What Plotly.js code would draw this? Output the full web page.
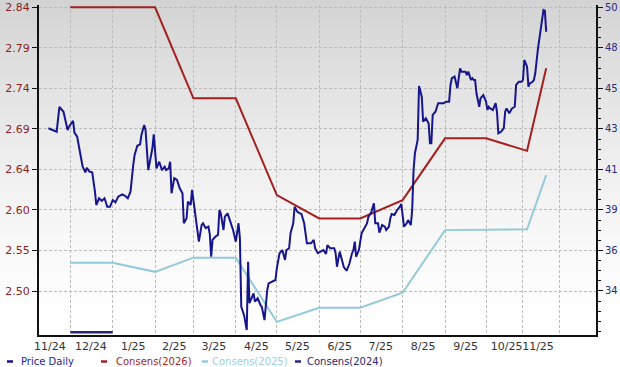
<!DOCTYPE html>
<html><head><meta charset="utf-8">
<script src="https://cdn.plot.ly/plotly-3.0.1.min.js"></script>
<style>html,body{margin:0;padding:0;background:#fff}#chart{width:620px;height:367px}</style>
</head><body><div id="chart"></div>
<script>
// ---------- DATA ----------
const priceDates = [
'2024-11-15','2024-11-18','2024-11-21','2024-11-23','2024-11-26','2024-11-29','2024-11-30',
'2024-12-03','2024-12-04','2024-12-06','2024-12-08','2024-12-10','2024-12-12','2024-12-13','2024-12-15','2024-12-17','2024-12-19','2024-12-20','2024-12-22','2024-12-24','2024-12-26','2024-12-28','2024-12-30',
'2025-01-01','2025-01-03','2025-01-05','2025-01-08','2025-01-10','2025-01-12','2025-01-14','2025-01-16','2025-01-17','2025-01-19','2025-01-21','2025-01-22','2025-01-24','2025-01-25','2025-01-27','2025-01-30','2025-01-31',
'2025-02-02','2025-02-04','2025-02-06','2025-02-08','2025-02-09','2025-02-11','2025-02-12','2025-02-13','2025-02-15','2025-02-17','2025-02-19','2025-02-21','2025-02-22','2025-02-24','2025-02-25','2025-02-27','2025-02-28',
'2025-03-02','2025-03-05','2025-03-07','2025-03-08','2025-03-10','2025-03-12','2025-03-13','2025-03-14','2025-03-15','2025-03-17','2025-03-19','2025-03-20','2025-03-21','2025-03-23','2025-03-24','2025-03-26','2025-03-28','2025-03-30',
'2025-04-01','2025-04-03','2025-04-04','2025-04-05','2025-04-07','2025-04-09','2025-04-10','2025-04-11','2025-04-13','2025-04-14','2025-04-15','2025-04-17','2025-04-19','2025-04-20','2025-04-22','2025-04-24','2025-04-25','2025-04-27','2025-04-30',
'2025-05-01','2025-05-03','2025-05-05','2025-05-07','2025-05-08','2025-05-10','2025-05-11','2025-05-13','2025-05-14','2025-05-16','2025-05-18','2025-05-19','2025-05-21','2025-05-23','2025-05-26','2025-05-28','2025-05-29','2025-05-31',
'2025-06-02','2025-06-04','2025-06-06','2025-06-07','2025-06-09','2025-06-12','2025-06-13','2025-06-14','2025-06-16','2025-06-18','2025-06-19','2025-06-21','2025-06-23','2025-06-25','2025-06-26','2025-06-27','2025-06-28','2025-06-30',
'2025-07-02','2025-07-04','2025-07-06','2025-07-07','2025-07-09','2025-07-11','2025-07-12','2025-07-14','2025-07-15','2025-07-17','2025-07-19','2025-07-20','2025-07-22','2025-07-23','2025-07-24','2025-07-26','2025-07-28','2025-07-30','2025-07-31',
'2025-08-02','2025-08-04','2025-08-05','2025-08-07','2025-08-08','2025-08-09','2025-08-10','2025-08-12','2025-08-13','2025-08-15','2025-08-16','2025-08-18','2025-08-20','2025-08-21','2025-08-22','2025-08-23','2025-08-25','2025-08-27','2025-08-29','2025-08-31',
'2025-09-02','2025-09-04','2025-09-05','2025-09-06','2025-09-08','2025-09-10','2025-09-12','2025-09-13','2025-09-16','2025-09-17','2025-09-18','2025-09-20','2025-09-21','2025-09-22','2025-09-23','2025-09-24','2025-09-26','2025-09-27','2025-09-28','2025-09-29',
'2025-10-01','2025-10-02','2025-10-03','2025-10-04','2025-10-06','2025-10-08','2025-10-09','2025-10-10','2025-10-12','2025-10-14','2025-10-15','2025-10-16','2025-10-18','2025-10-20','2025-10-22','2025-10-23','2025-10-25','2025-10-27','2025-10-28','2025-10-29','2025-10-31',
'2025-11-01','2025-11-02','2025-11-04','2025-11-05','2025-11-06','2025-11-08','2025-11-10','2025-11-12','2025-11-13','2025-11-14'
];
const priceValues = [
43.18,43.10,42.98,44.39,44.11,43.08,43.27,
43.59,42.93,42.70,41.86,41.01,40.69,40.95,40.73,40.69,39.60,38.85,39.23,39.08,39.23,38.75,38.75,
39.13,39.00,39.32,39.45,39.37,39.23,39.60,41.11,41.67,42.19,42.27,42.80,43.36,43.08,40.82,42.05,42.84,
40.92,41.29,40.82,41.01,40.82,40.92,41.29,39.51,40.36,40.26,39.79,39.51,37.82,38.10,39.04,38.85,39.70,
38.47,36.78,37.72,37.82,37.54,37.63,37.20,35.93,36.88,37.06,37.16,38.57,38.38,37.44,38.19,38.38,37.91,37.44,
36.78,37.82,36.97,33.11,32.65,31.80,35.65,33.31,33.68,33.87,33.40,33.59,33.21,33.11,32.36,34.06,34.43,34.52,34.62,
35.28,36.13,36.31,35.75,36.31,36.41,37.25,37.82,38.75,38.47,38.38,38.34,37.82,36.69,36.69,36.88,36.41,36.13,
36.22,36.31,36.09,36.59,36.41,36.41,36.13,35.37,36.22,35.65,35.35,35.14,35.52,36.13,36.31,36.78,35.93,36.31,
37.25,37.54,37.82,38.19,38.42,38.95,37.82,37.82,37.29,37.72,37.63,37.44,37.63,38.10,38.34,38.29,38.57,38.75,38.91,
37.63,37.82,38.00,37.72,38.57,40.82,41.77,42.52,45.56,44.96,43.55,43.74,43.46,42.33,42.33,43.93,44.11,44.59,44.59,44.59,
44.68,44.68,45.62,46.00,46.09,45.43,46.56,46.37,46.37,46.18,46.37,45.90,46.00,45.90,45.90,45.15,44.39,44.87,44.96,45.05,
44.68,44.21,44.39,44.30,44.21,44.59,44.11,42.89,42.98,43.18,44.11,44.30,44.02,44.30,44.39,45.62,45.80,45.80,45.90,47.03,46.65,
45.52,45.71,45.80,45.90,46.28,47.69,48.82,49.85,49.81,48.62
];

const cons2026Dates = ['2024-12-01','2025-02-01','2025-03-01','2025-04-01','2025-05-01','2025-06-01','2025-07-01','2025-08-01','2025-09-01','2025-10-01','2025-10-31','2025-11-14'];
const cons2026Values = [2.840,2.840,2.731,2.731,2.615,2.587,2.587,2.609,2.683,2.683,2.668,2.767];

const cons2025Dates = ['2024-12-01','2025-01-01','2025-02-01','2025-03-01','2025-04-01','2025-05-01','2025-06-01','2025-07-01','2025-08-01','2025-09-01','2025-10-31','2025-11-14'];
const cons2025Values = [2.534,2.534,2.523,2.540,2.540,2.463,2.480,2.480,2.498,2.573,2.574,2.639];

const cons2024Dates = ['2024-12-01','2025-01-01'];
const cons2024Values = [2.4505,2.4505];

const xTickDates = ['2024-11-16','2024-12-16','2025-01-16','2025-02-15','2025-03-16','2025-04-16','2025-05-16','2025-06-16','2025-07-16','2025-08-16','2025-09-16','2025-10-16','2025-11-08'];
const xTickLabels = ['11/24','12/24','1/25','2/25','3/25','4/25','5/25','6/25','7/25','8/25','9/25','10/25','11/25'];
const xGridDates = ['2024-12-01','2025-01-01','2025-02-01','2025-03-01','2025-04-01','2025-05-01','2025-06-01','2025-07-01','2025-08-01','2025-09-01','2025-10-01','2025-10-28','2025-11-24'];

const leftTickLabels = ['2.50','2.55','2.60','2.64','2.69','2.74','2.79','2.84'];
const rightTickLabels = ['34','36','39','41','43','45','48','50'];

const legendLabels = ['Price Daily','Consens(2026)','Consens(2025)','Consens(2024)'];

// ---------- STYLE ----------
const FONT = '"DejaVu Sans", Verdana, sans-serif';
const C_PRICE = '#16168c', C_2026 = '#a3201f', C_2025 = '#93cadb', C_2024 = '#26267e';
const legendTextColors = ['#1f1f8a','#a3292b','#9dcfe0','#2a2a6e'];
const legendLineColors = [C_PRICE, C_2026, C_2025, C_2024];
const legendDashPx = [7, 101, 202, 295];
const legendTextPx = [20, 115, 211, 306];

const L = 39, R = 24, T = 5, B = 32, W = 620, H = 367;
const PW = W - L - R, PH = H - T - B;
const px2x = p => (p - L) / PW;
const py2y = p => (H - B - p) / PH;

const leftTickVals = leftTickLabels.map((_, i) => 2.50 + i * 0.34 / 7);
const rightTickVals = rightTickLabels.map((_, i) => 34 + i * 16 / 7);

// background gradient bands (whole figure)
const shapes = [];
for (let py = 0; py < H; py += 3) {
  const t = Math.max(0, 1 - (py + 1.5) / 340);
  const c = Math.round(255 - 44 * Math.pow(t, 1.5));
  shapes.push({type:'rect', xref:'paper', yref:'paper', x0:px2x(-2), x1:px2x(W + 2),
    y0:py2y(py + 3.6), y1:py2y(py), fillcolor:`rgb(${c},${c},${c})`, line:{width:0}, layer:'below'});
}
// legend dashes
const annotations = [];
const legY = 361.5;
legendLabels.forEach((lab, i) => {
  shapes.push({type:'line', xref:'paper', yref:'paper', x0:px2x(legendDashPx[i]), x1:px2x(legendDashPx[i] + 6),
    y0:py2y(legY), y1:py2y(legY), line:{color:legendLineColors[i], width:2.5}, layer:'above'});
  annotations.push({xref:'paper', yref:'paper', x:px2x(legendTextPx[i]), y:py2y(legY), xanchor:'left', yanchor:'middle',
    text:lab, showarrow:false, font:{family:FONT, size:10, color:legendTextColors[i]}, borderpad:0});
});

const traces = [
  {x:cons2024Dates, y:cons2024Values, type:'scatter', mode:'lines', line:{color:C_2024, width:2.5}, yaxis:'y', name:'Consens(2024)', hoverinfo:'skip'},
  {x:cons2025Dates, y:cons2025Values, type:'scatter', mode:'lines', line:{color:C_2025, width:2}, yaxis:'y', name:'Consens(2025)', hoverinfo:'skip'},
  {x:cons2026Dates, y:cons2026Values, type:'scatter', mode:'lines', line:{color:C_2026, width:2}, yaxis:'y', name:'Consens(2026)', hoverinfo:'skip'},
  {x:priceDates, y:priceValues, type:'scatter', mode:'lines', line:{color:C_PRICE, width:2}, yaxis:'y2', name:'Price Daily', hoverinfo:'skip'}
];

const GRID = '#bcbcbc';
const layout = {
  width:W, height:H,
  margin:{l:L, r:R, t:T, b:B, pad:0},
  paper_bgcolor:'#ffffff', plot_bgcolor:'rgba(0,0,0,0)',
  showlegend:false,
  font:{family:FONT, size:11, color:'#333'},
  xaxis:{type:'date', range:['2024-11-08 02:00','2025-12-20 10:00'], tickmode:'array', tickvals:xTickDates, ticktext:xTickLabels,
    tickangle:0, showgrid:false, ticks:'', showline:true, linecolor:'#111', linewidth:2, zeroline:false,
    tickfont:{family:FONT, size:11, color:'#333'},
    minor:{tickmode:'array', tickvals:xGridDates, showgrid:true, gridcolor:GRID, griddash:'3px,2px', gridwidth:1, ticks:''},
    fixedrange:true},
  yaxis:{range:[2.4473, 2.8428], tickmode:'array', tickvals:leftTickVals, ticktext:leftTickLabels,
    showgrid:true, gridcolor:GRID, griddash:'3px,2px', gridwidth:1, ticks:'outside', ticklen:5, tickcolor:'#111', tickwidth:1,
    showline:true, linecolor:'#111', linewidth:2, zeroline:false, tickfont:{family:FONT, size:11, color:'#8b2323'}, fixedrange:true},
  yaxis2:{overlaying:'y', side:'right', range:[31.518, 50.13], tickmode:'array', tickvals:rightTickVals, ticktext:rightTickLabels,
    showgrid:false, ticks:'outside', ticklen:5, tickcolor:'#111', tickwidth:1, showline:true, linecolor:'#111', linewidth:2, zeroline:false,
    tickfont:{family:FONT, size:10, color:'#2a2a7a'},
    minor:{tickmode:'linear', tick0:34, dtick:16/28, ticks:'outside', ticklen:3, tickcolor:'#111', showgrid:false}, fixedrange:true},
  shapes:shapes,
  annotations:annotations
};

Plotly.newPlot('chart', traces, layout, {staticPlot:true, displayModeBar:false});
</script>
</body></html>
